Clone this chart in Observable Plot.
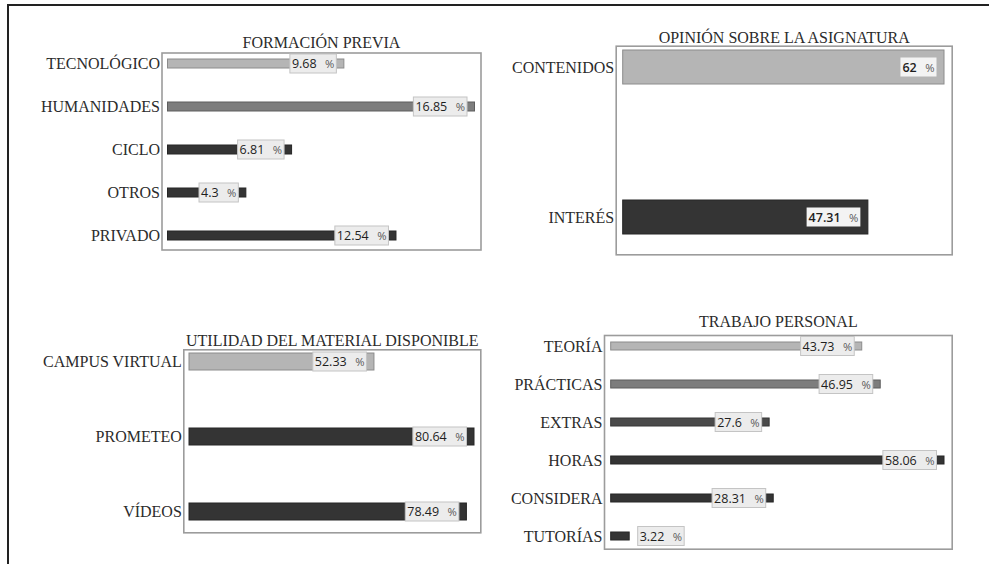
<!DOCTYPE html>
<html>
<head>
<meta charset="utf-8">
<script src="https://cdn.jsdelivr.net/npm/d3@7"></script>
<script src="https://cdn.jsdelivr.net/npm/@observablehq/plot@0.6"></script>
<style>
  html, body { margin: 0; padding: 0; background: #fff; }
  #chart { position: relative; width: 989px; height: 564px; overflow: hidden; background: #fff; }
  #marco { position: absolute; left: 7px; top: 4px; right: -4px; bottom: -4px; border-top: 2px solid #222; border-left: 2px solid #222; }
  .panel { position: absolute; }
  .panel svg { overflow: visible; }
</style>
</head>
<body>
<div id="chart"><div id="marco"></div></div>
<script>
// ---------- DATA ----------
const formacionTitulo = "FORMACIÓN PREVIA";
const formacionCategorias = ["TECNOLÓGICO", "HUMANIDADES", "CICLO", "OTROS", "PRIVADO"];
const formacionValores = [9.68, 16.85, 6.81, 4.3, 12.54];
const formacionTonos = ["claro", "medio", "oscuro", "oscuro", "oscuro"];

const opinionTitulo = "OPINIÓN SOBRE LA ASIGNATURA";
const opinionCategorias = ["CONTENIDOS", "INTERÉS"];
const opinionValores = [62, 47.31];
const opinionTonos = ["claro", "oscuro"];

const utilidadTitulo = "UTILIDAD DEL MATERIAL DISPONIBLE";
const utilidadCategorias = ["CAMPUS VIRTUAL", "PROMETEO", "VÍDEOS"];
const utilidadValores = [52.33, 80.64, 78.49];
const utilidadTonos = ["claro", "oscuro", "oscuro"];

const trabajoTitulo = "TRABAJO PERSONAL";
const trabajoCategorias = ["TEORÍA", "PRÁCTICAS", "EXTRAS", "HORAS", "CONSIDERA", "TUTORÍAS"];
const trabajoValores = [43.73, 46.95, 27.6, 58.06, 28.31, 3.22];
const trabajoTonos = ["claro", "medio", "semioscuro", "oscuro", "oscuro", "oscuro"];

// ---------- STYLE ----------
const tonos = {
  claro:      { fill: "#b5b5b5", stroke: "#8c8c8c" },
  medio:      { fill: "#7d7d7d", stroke: "#5e5e5e" },
  semioscuro: { fill: "#4a4a4a", stroke: "#373737" },
  oscuro:     { fill: "#343434", stroke: "#262626" }
};
const serif = "'Liberation Serif', 'Times New Roman', serif";
const sans = "'Open Sans', 'DejaVu Sans', sans-serif";

function panel(cfg) {
  const data = cfg.cats.map((c, i) => ({ cat: c, value: cfg.vals[i], tone: cfg.tones[i] }));
  const max = d3.max(cfg.vals);
  const inside = data.filter(d => d.value / max >= 0.15);
  const outside = data.filter(d => d.value / max < 0.15);
  const label = d => `${d.value}\u00a0%`;
  const tag = cfg.boxed ? "pct-box" : "pct-plain";
  const chart = Plot.plot({
    width: cfg.width, height: cfg.height,
    marginLeft: cfg.ml, marginRight: cfg.mr, marginTop: cfg.mt, marginBottom: cfg.mb,
    style: { color: "#2b2b2b", background: "transparent", overflow: "visible" },
    color: { type: "identity" },
    x: { domain: [0, max], insetLeft: cfg.il, insetRight: cfg.ir, axis: null },
    y: { domain: cfg.cats, paddingInner: cfg.pad, paddingOuter: 0, insetTop: cfg.it, insetBottom: cfg.ib, axis: null, label: null },
    marks: [
      Plot.frame({ stroke: "#9c9c9c", strokeWidth: 1.6 }),
      Plot.barX(data, {
        x: "value", y: "cat",
        fill: d => tonos[d.tone].fill, stroke: d => tonos[d.tone].stroke, strokeWidth: 1
      }),
      Plot.axisY({ tickSize: 0, tickPadding: 2, fontSize: 16, fontFamily: serif, label: null }),
      Plot.text([cfg.title], {
        text: d => d, frameAnchor: "top", dy: cfg.tdy, lineAnchor: "middle",
        fontSize: 16, fontFamily: serif, fill: "#2b2b2b"
      }),
      Plot.text(inside, {
        x: "value", y: "cat", text: label, textAnchor: "end", dx: -10,
        fontSize: 12.5, fontFamily: sans, fill: "#1e1e1e", fontWeight: cfg.bold ? 600 : 400,
        ariaLabel: () => tag
      }),
      Plot.text(outside, {
        x: "value", y: "cat", text: label, textAnchor: "start", dx: 10,
        fontSize: 12.5, fontFamily: sans, fill: "#1e1e1e",
        ariaLabel: () => tag
      })
    ]
  });
  const wrap = document.createElement("div");
  wrap.className = "panel";
  wrap.style.left = cfg.left + "px";
  wrap.style.top = cfg.top + "px";
  wrap.appendChild(chart);
  document.getElementById("chart").appendChild(wrap);
}

panel({ title: formacionTitulo, cats: formacionCategorias, vals: formacionValores, tones: formacionTonos,
  left: 10, top: 20, width: 480, height: 240, ml: 151.5, mr: 9.5, mt: 32.5, mb: 10.5,
  il: 6, ir: 6, it: 4.9, ib: 8.1, pad: 0.794, tdy: -10, boxed: true });

panel({ title: opinionTitulo, cats: opinionCategorias, vals: opinionValores, tones: opinionTonos,
  left: 495, top: 15, width: 470, height: 250, ml: 120.7, mr: 13.3, mt: 30.7, mb: 10.7,
  il: 7, ir: 7.7, it: 4.4, ib: 19.9, pad: 0.775, tdy: -8.5, boxed: false, bold: true });

panel({ title: utilidadTitulo, cats: utilidadCategorias, vals: utilidadValores, tones: utilidadTonos,
  left: 10, top: 315, width: 480, height: 230, ml: 173.3, mr: 9.7, mt: 34.3, mb: 12.7,
  il: 5.7, ir: 6.3, it: 3.4, ib: 11, pad: 0.77, tdy: -9, boxed: true });

panel({ title: trabajoTitulo, cats: trabajoCategorias, vals: trabajoValores, tones: trabajoTonos,
  left: 495, top: 300, width: 470, height: 260, ml: 109, mr: 13.3, mt: 35, mb: 11.3,
  il: 6.7, ir: 7.7, it: 5.3, ib: 7.4, pad: 0.79, tdy: -14, boxed: true });

// label boxes behind the percentage texts (sized from the rendered text)
const NS = "http://www.w3.org/2000/svg";
document.querySelectorAll('text[aria-label^="pct"]').forEach(t => {
  const boxed = t.getAttribute("aria-label") === "pct-box";
  const num = t.textContent.replace(/\s*%$/, "");
  t.textContent = num;
  const ts = document.createElementNS(NS, "tspan");
  ts.setAttribute("dx", "0.75em");
  ts.setAttribute("fill", "#5a5a5a");
  ts.setAttribute("font-size", "0.9em");
  ts.setAttribute("font-weight", "400");
  ts.textContent = "%";
  t.appendChild(ts);
  const b = t.getBBox();
  const r = document.createElementNS(NS, "rect");
  r.setAttribute("x", b.x - 2);
  r.setAttribute("y", b.y + b.height / 2 - 9.5);
  r.setAttribute("width", b.width + 4);
  r.setAttribute("height", 19);
  r.setAttribute("fill", boxed ? "#ececec" : "#f3f3f3");
  r.setAttribute("stroke", boxed ? "#c4c4c4" : "none");
  r.setAttribute("stroke-width", "1");
  const tr = t.getAttribute("transform");
  if (tr) r.setAttribute("transform", tr);
  t.parentNode.insertBefore(r, t);
});
</script>
</body>
</html>
